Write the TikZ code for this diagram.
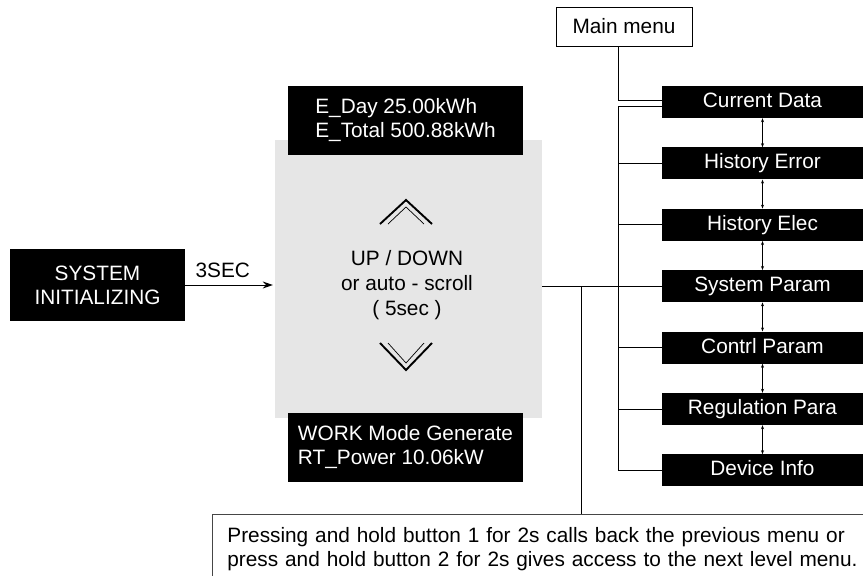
\documentclass[tikz,border=0pt]{standalone}
\usepackage{fontspec}
\setmainfont{Liberation Sans}
\usetikzlibrary{
  positioning,
  calc,
  arrows.meta}
\definecolor{screencolor}{RGB}{230,230,230}
\definecolor{notecolor}{RGB}{70,70,70}
\tikzset{
  %% blackbox : white text on a black field
  blackbox/.style={
    rectangle,
    fill=black,
    text=white,
    inner sep=0pt,
    align=left
  },
  %% menuitem : one entry of the menu list
  menuitem/.style={
    blackbox,
    minimum width=201pt,
    minimum height=32pt,
    text height=15pt,
    text depth=4pt,
    align=center
  },
  %% screen : the grey display area
  screen/.style={
    rectangle,
    fill=screencolor,
    minimum width=267pt,
    minimum height=278pt
  },
  %% framed : white box with a thin border
  framed/.style={
    rectangle,
    draw=notecolor,
    fill=white,
    line width=0.8pt
  },
  %% link : plain connection line
  link/.style={line width=1pt},
  %% updown : scrolling between two menu entries
  updown/.style={
    {Stealth[length=4pt,width=3pt]}-{Stealth[length=4pt,width=3pt]},
    line width=0.6pt
  },
  %% chevron : the up / down marks on the screen
  chevron/.style={line width=1.9pt},
  chevronin/.style={line width=0.7pt}
}

\begin{document}
\begin{tikzpicture}
  [x=1pt,
  y=-1pt,
  font=\fontsize{20.8}{24}\selectfont]
  \useasboundingbox (0,0) rectangle (863,576);

  %% start
  \node (sysinit) [blackbox, align=center, minimum width=175pt,
    minimum height=72pt] at (97.5,285) {%
    SYSTEM\\
    INITIALIZING};

  %% screen with status lines
  \node (screen) [screen] at (408.5,279) {};

  \node (eday) [blackbox, minimum width=235pt, minimum height=69pt]
    at (405.5,120.5) {%
    E\_Day 25.00kWh\\
    E\_Total 500.88kWh};

  \node (workmode) [blackbox, minimum width=235pt, minimum height=69pt]
    at (405.5,447.5) {%
    WORK Mode Generate\\
    RT\_Power 10.06kW};

  \node (scroll) [align=center, font=\fontsize{20.8}{25}\selectfont]
    at (407,285) {%
    UP / DOWN\\
    or auto - scroll\\
    ( 5sec )};

  \draw [chevron] (380,224) -- (406,200) -- (432,224);
  \draw [chevronin] (388,224) -- (406,207) -- (424,224);
  \draw [chevron] (380,343) -- (406,370) -- (432,343);
  \draw [chevronin] (388,343) -- (406,363) -- (424,343);

  %% menu
  \node (mainmenu) [framed, draw=black, minimum width=136pt,
    minimum height=39pt] at (624,26.5) {Main menu};

  \node (curdata) [menuitem] at (762.5,102) {Current Data};
  \node (histerr) [menuitem, below=29pt of curdata] {History Error};
  \node (histelec) [menuitem, below=29pt of histerr] {History Elec};
  \node (sysparam) [menuitem, below=29pt of histelec] {System Param};
  \node (contrl) [menuitem, below=29pt of sysparam] {Contrl Param};
  \node (regul) [menuitem, below=29pt of contrl] {Regulation Para};
  \node (devinfo) [menuitem, below=29pt of regul] {Device Info};

  %% note
  \node (note) [framed, anchor=north west, text width=680pt,
    inner xsep=15pt, inner ysep=9pt, minimum height=70pt, align=left]
    at (212,514) {%
    Pressing and hold button 1 for 2s calls back the previous menu or\\
    press and hold button 2 for 2s gives access to the next level menu.};

  %% Connections
  \draw [link, -{Stealth[length=10pt,width=7pt]}, shorten >=2pt]
    (sysinit.east) -- (sysinit.east -| screen.west)
    node (delay) [above=3pt, pos=0.42] {3SEC};

  \coordinate (treex) at (618,0);
  \coordinate (split) at (581,0);

  \draw [link] ([xshift=-6pt]mainmenu.south) |- ([yshift=2pt]curdata.west);
  \draw [link] ([yshift=-4pt]curdata.west) -| (treex |- devinfo.west)
    -- (devinfo.west);
  \foreach \item in {histerr, histelec, contrl, regul}
    \draw [link] (treex |- \item.west) -- (\item.west);

  \draw [link] (screen.east |- sysparam.west) -- (sysparam.west);
  \draw [link] (split |- sysparam.west) -- (split |- note.north);

  \draw [updown] (curdata) -- (histerr);
  \draw [updown] (histerr) -- (histelec);
  \draw [updown] (histelec) -- (sysparam);
  \draw [updown] (sysparam) -- (contrl);
  \draw [updown] (contrl) -- (regul);
  \draw [updown] (regul) -- (devinfo);

\end{tikzpicture}
\end{document}
